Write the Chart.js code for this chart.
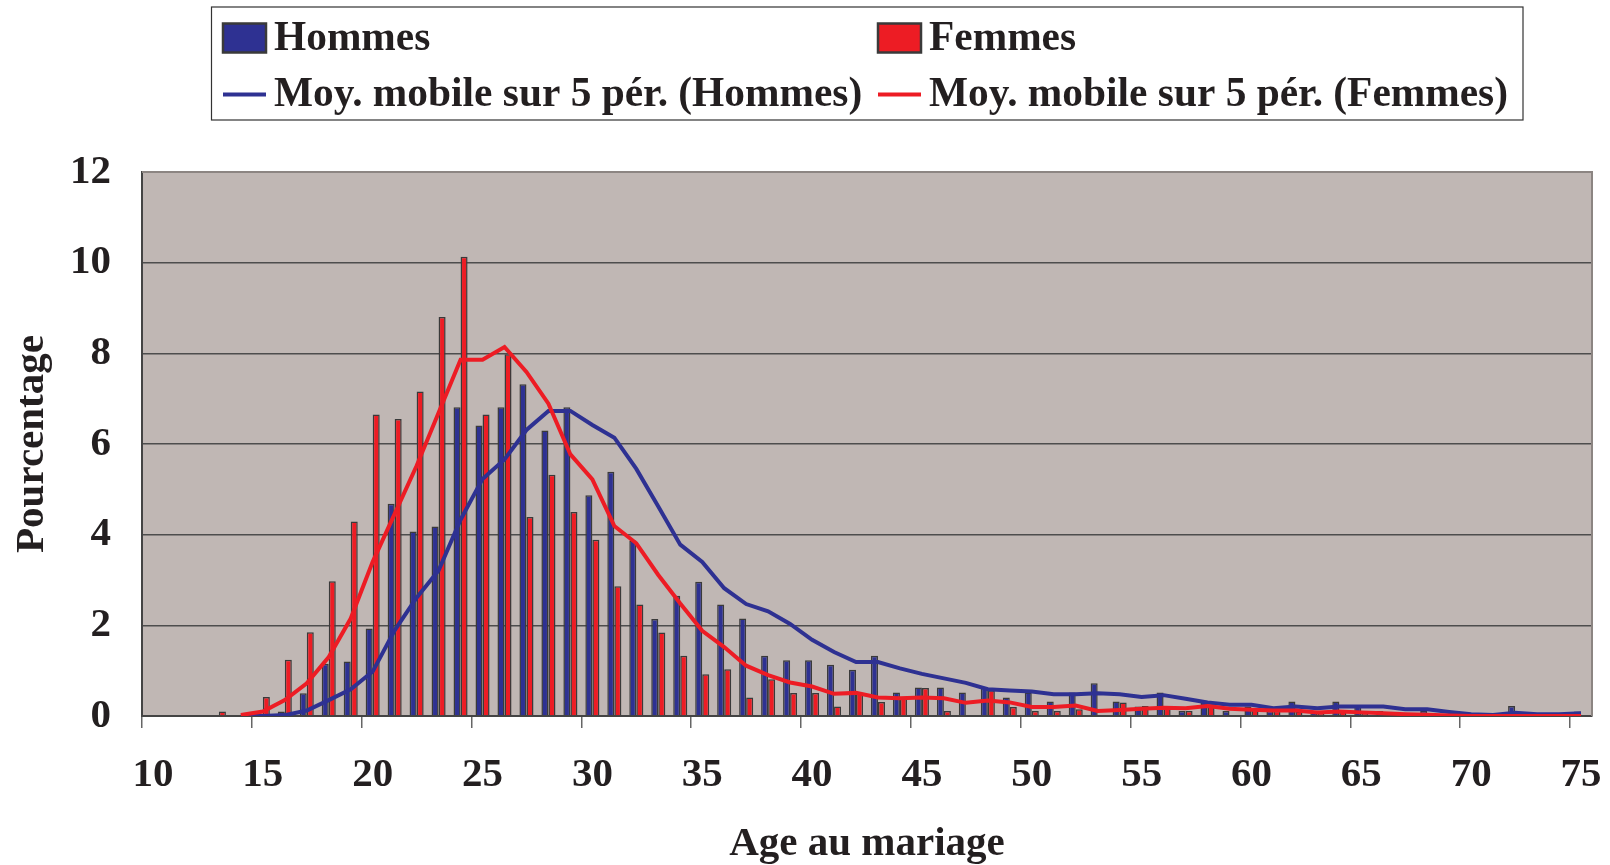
<!DOCTYPE html>
<html lang="fr">
<head>
<meta charset="utf-8">
<title>Age au mariage</title>
<script src="https://cdn.jsdelivr.net/npm/chart.js@4.4.1/dist/chart.umd.min.js"></script>
<style>
html,body{margin:0;padding:0;background:#fff}
#wrap{width:1610px;height:865px}
</style>
</head>
<body>
<div id="wrap"><canvas id="chart" width="1610" height="865"></canvas></div>
<script>
// ages (one bar group per year) and percentages
const ages=[10,11,12,13,14,15,16,17,18,19,20,21,22,23,24,25,26,27,28,29,30,31,32,33,34,35,36,37,38,39,40,41,42,43,44,45,46,47,48,49,50,51,52,53,54,55,56,57,58,59,60,61,62,63,64,65,66,67,68,69,70,71,72,73,74,75];
const hommes=[0,0,0,0,0,0,0.1,0.5,1.15,1.2,
  1.93,4.68,4.07,4.18,6.81,6.41,6.81,7.32,6.3,6.81,
  4.87,5.39,3.87,2.14,2.65,2.96,2.46,2.15,1.33,1.23,
  1.23,1.13,1.02,1.33,0.52,0.63,0.63,0.52,0.63,0.41,
  0.52,0.32,0.52,0.72,0.32,0.21,0.52,0.11,0.32,0.11,
  0.21,0.11,0.32,0.11,0.32,0.21,0.11,0,0.11,0,
  0,0,0.22,0,0,0.1];
const femmes=[0,0,0,0.1,0,0.42,1.24,1.85,2.97,4.29,
  6.65,6.55,7.16,8.8,10.13,6.65,7.98,4.39,5.32,4.5,
  3.89,2.86,2.46,1.84,1.33,0.92,1.03,0.41,0.81,0.51,
  0.51,0.21,0.51,0.31,0.4,0.62,0.11,0,0.57,0.2,
  0.11,0.11,0.15,0,0.3,0.22,0.22,0.11,0.25,0,
  0.13,0.11,0.1,0.05,0.1,0.05,0,0,0,0,
  0,0,0,0,0,0];
// moving-average curves as drawn (5 periods)
const moyHommes=[null,null,null,null,0,0,0.02,0.12,0.35,0.59,
  0.98,1.89,2.61,3.21,4.33,5.23,5.66,6.31,6.73,6.73,
  6.42,6.14,5.45,4.62,3.78,3.40,2.82,2.47,2.31,2.03,
  1.68,1.41,1.19,1.19,1.05,0.93,0.83,0.73,0.59,0.56,
  0.54,0.48,0.48,0.50,0.48,0.42,0.46,0.38,0.30,0.25,
  0.25,0.17,0.21,0.17,0.21,0.21,0.21,0.15,0.15,0.09,
  0.04,0.02,0.07,0.04,0.04,0.06];
const moyFemmes=[null,null,null,null,0.02,0.10,0.35,0.72,1.30,2.15,
  3.40,4.46,5.52,6.69,7.86,7.86,8.14,7.59,6.89,5.77,
  5.22,4.19,3.81,3.11,2.48,1.88,1.52,1.11,0.90,0.74,
  0.65,0.49,0.51,0.41,0.39,0.41,0.39,0.29,0.34,0.30,
  0.20,0.20,0.23,0.11,0.13,0.16,0.18,0.17,0.22,0.16,
  0.14,0.12,0.12,0.08,0.10,0.08,0.06,0.04,0.03,0.01,
  0,0,0,0,0,0];

const ink="#231f20", blue="#2e3192", red="#ed1c24";
// bars sit between the year ticks, so centre each one half a year on
const pts=vals=>ages.map((a,i)=>({x:a+0.5,y:vals[i]}));

Chart.defaults.font.family="'Liberation Serif','Times New Roman',serif";
Chart.defaults.font.size=41;
Chart.defaults.font.weight="bold";
Chart.defaults.color=ink;

const plotBg={id:"plotBg",
  beforeDraw(c){const a=c.chartArea,x=c.ctx;x.save();x.fillStyle="#c0b7b4";x.fillRect(a.left,a.top,a.right-a.left,a.bottom-a.top);x.restore()},
  beforeDatasetsDraw(c){const a=c.chartArea,x=c.ctx;x.save();x.strokeStyle="#8c8582";x.lineWidth=2;
    x.beginPath();x.moveTo(a.left,a.top);x.lineTo(a.right,a.top);x.lineTo(a.right,a.bottom);x.stroke();x.restore()}
};

// 2x2 legend in a framed box above the plot
const legendBox={id:"legendBox",afterDraw(c){
  const x=c.ctx, ds=c.data.datasets, cols=[223,878], rows=[38,94.5];
  x.save();
  x.fillStyle="#fff";x.fillRect(211.5,7,1311.5,113);
  x.strokeStyle="#333";x.lineWidth=1.2;x.strokeRect(211.5,7,1311.5,113);
  x.font="bold 41.4px 'Liberation Serif'";x.textBaseline="middle";x.textAlign="left";
  ds.forEach((d,i)=>{
    const cx=cols[i%2], cy=rows[Math.floor(i/2)];
    if(d.type==="line"){x.strokeStyle=d.borderColor;x.lineWidth=4;x.beginPath();x.moveTo(cx,cy);x.lineTo(cx+43,cy);x.stroke()}
    else{x.fillStyle=d.backgroundColor;x.fillRect(cx,cy-14.5,43,29);x.strokeStyle="#3a3a3a";x.lineWidth=2.5;x.strokeRect(cx,cy-14.5,43,29)}
    x.fillStyle=ink;x.fillText(d.label,cx+51,cy+1);
  });
  x.restore();
}};

new Chart(document.getElementById("chart"),{
  type:"bar",
  data:{datasets:[
    {type:"bar",label:"Hommes",data:pts(hommes),backgroundColor:blue,borderColor:"#3a3a3a",borderWidth:1.5,order:2},
    {type:"bar",label:"Femmes",data:pts(femmes),backgroundColor:red,borderColor:"#3a3a3a",borderWidth:1.5,order:2},
    {type:"line",label:"Moy. mobile sur 5 pér. (Hommes)",data:pts(moyHommes),borderColor:blue,borderWidth:4,pointRadius:0,tension:0,order:1},
    {type:"line",label:"Moy. mobile sur 5 pér. (Femmes)",data:pts(moyFemmes),borderColor:red,borderWidth:4,pointRadius:0,tension:0,order:0}
  ]},
  options:{
    responsive:false,animation:false,events:[],
    layout:{padding:{top:172,right:18,bottom:0,left:0}},
    datasets:{bar:{categoryPercentage:0.64,barPercentage:1}},
    plugins:{legend:{display:false},tooltip:{enabled:false}},
    scales:{
      x:{type:"linear",min:10,max:76,offset:false,
        ticks:{stepSize:5,includeBounds:false,labelOffset:11,padding:23,autoSkip:false,maxRotation:0},
        grid:{offset:false,drawOnChartArea:false,drawTicks:true,tickLength:12,color:"#666",lineWidth:1.5},
        border:{display:true,color:"#444",width:2},
        title:{display:true,text:"Age au mariage",font:{lineHeight:1},padding:{top:0,bottom:0}},
        afterFit(s){s.height=149;s.paddingLeft=0;s.paddingRight=0}},
      y:{min:0,max:12,
        ticks:{stepSize:2,padding:31},
        grid:{color:"#4d4d4d",lineWidth:1.5,drawTicks:false},
        border:{display:true,color:"#444",width:2},
        title:{display:true,text:"Pourcentage",padding:{top:8,bottom:0}},
        afterFit(s){s.width=142}}
    }
  },
  plugins:[plotBg,legendBox]
});
</script>
</body>
</html>
